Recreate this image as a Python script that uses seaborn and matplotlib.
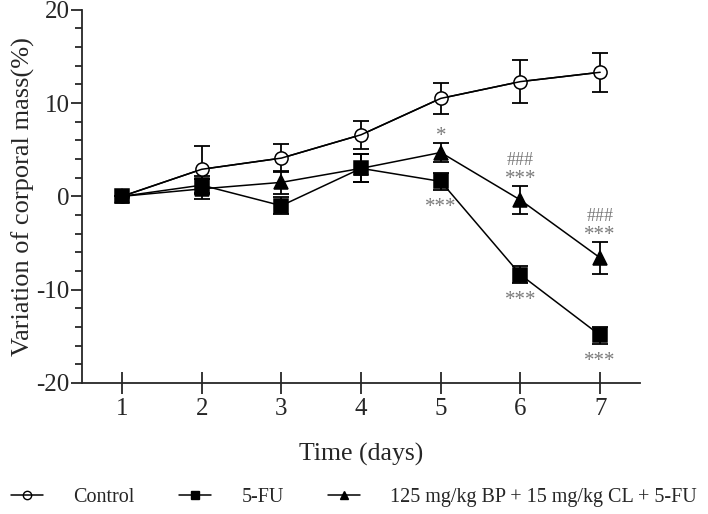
import numpy as np
import pandas as pd
import seaborn as sns
import matplotlib.pyplot as plt
from matplotlib.lines import Line2D
from matplotlib.ticker import MultipleLocator

# dati
days = [1, 2, 3, 4, 5, 6, 7]
ctrl_mean = [0, 2.9, 4.1, 6.6, 10.5, 12.3, 13.3]
ctrl_err = [0, 2.5, 1.5, 1.5, 1.7, 2.3, 2.1]
fu_mean = [0, 1.2, -1.0, 3.0, 1.6, -8.4, -14.9]
fu_err = [0, 1.0, 0.9, 1.5, 0.9, 0.9, 0.9]
tri_mean = [0, 0.8, 1.5, 3.0, 4.7, -0.4, -6.6]
tri_err = [0, 1.1, 1.2, 1.5, 1.0, 1.5, 1.7]
labels = ["Control", "5-FU", "125 mg/kg BP + 15 mg/kg CL + 5-FU"]

# significativita (giorno, testo)
tri_stars = [(5, "*"), (6, "***"), (7, "***")]
tri_hash = [(6, "###"), (7, "###")]
fu_stars = [(5, "***"), (6, "***"), (7, "***")]

sns.set_style("ticks")
plt.rcParams['font.family'] = ['Liberation Serif', 'DejaVu Serif']
plt.rcParams['axes.unicode_minus'] = False

fig = plt.figure(figsize=(7.08, 5.14), dpi=100)
ax = fig.add_axes([0.116, 0.255, 0.788, 0.726])

series = [
    (ctrl_mean, ctrl_err, "o", "white", 9.5),
    (fu_mean, fu_err, "s", "black", 9.5),
    (tri_mean, tri_err, "^", "black", 9.5),
]
for (m, e, mk, fc, ms), lab in zip(series, labels):
    df = pd.DataFrame({"day": days, "val": m})
    ax.errorbar(days, m, yerr=e, fmt="none", ecolor="black", elinewidth=1.3,
                capsize=5.5, capthick=1.3, zorder=2)
    sns.lineplot(data=df, x="day", y="val", ax=ax, color="black", lw=1.1,
                 marker=mk, markersize=ms, markerfacecolor=fc,
                 markeredgecolor="black", markeredgewidth=1.1, label=lab,
                 legend=False, zorder=3)
    if fc == "white":
        # la linea del controllo attraversa i cerchi vuoti
        sns.lineplot(data=df, x="day", y="val", ax=ax, color="black", lw=1.1,
                     legend=False, zorder=4)

grey = "#7a7a7a"
for d, t in tri_stars:
    i = days.index(d)
    ax.annotate(t, (d, tri_mean[i] + tri_err[i]), xytext=(0, 1.5),
                textcoords="offset points", ha="center", va="baseline",
                fontsize=15, color=grey)
for d, t in tri_hash:
    i = days.index(d)
    ax.annotate(t, (d, tri_mean[i] + tri_err[i]), xytext=(0, 15),
                textcoords="offset points", ha="center", va="baseline",
                fontsize=13, color=grey)
for d, t in fu_stars:
    i = days.index(d)
    ax.annotate(t, (d, fu_mean[i] - fu_err[i]), xytext=(0, -16),
                textcoords="offset points", ha="center", va="baseline",
                fontsize=15, color=grey)

ax.set_xlim(0.5, 7.5)
ax.set_ylim(-20, 20)
ax.set_xticks(days)
ax.yaxis.set_major_locator(MultipleLocator(10))
ax.yaxis.set_minor_locator(MultipleLocator(2))
ax.tick_params(axis="x", direction="inout", length=16, width=1.3, labelsize=18, pad=3)
ax.tick_params(axis="y", which="major", direction="out", length=8, width=1.3, labelsize=18, pad=1)
ax.tick_params(axis="y", which="minor", direction="out", length=5, width=1.3)
for s in ["left", "bottom"]:
    ax.spines[s].set_linewidth(1.3)
ax.spines["top"].set_visible(False)
ax.spines["right"].set_visible(False)
ax.set_xlabel("Time (days)", fontsize=18.5, labelpad=16)
ax.set_ylabel("Variation of corporal mass(%)", fontsize=19, labelpad=1)

handles = [
    Line2D([], [], color="black", lw=1.1, marker="o", ms=6, mfc="none", mec="black"),
    Line2D([], [], color="black", lw=1.1, marker="s", ms=6, mfc="black", mec="black"),
    Line2D([], [], color="black", lw=1.1, marker="^", ms=6, mfc="black", mec="black"),
]
fig.legend(handles, labels, loc="center", bbox_to_anchor=(0.5, 0.033), ncol=3,
           frameon=False, fontsize=14.5, handlelength=1.6, columnspacing=2.2,
           handletextpad=1.5)

plt.savefig("out.png", dpi=100)
